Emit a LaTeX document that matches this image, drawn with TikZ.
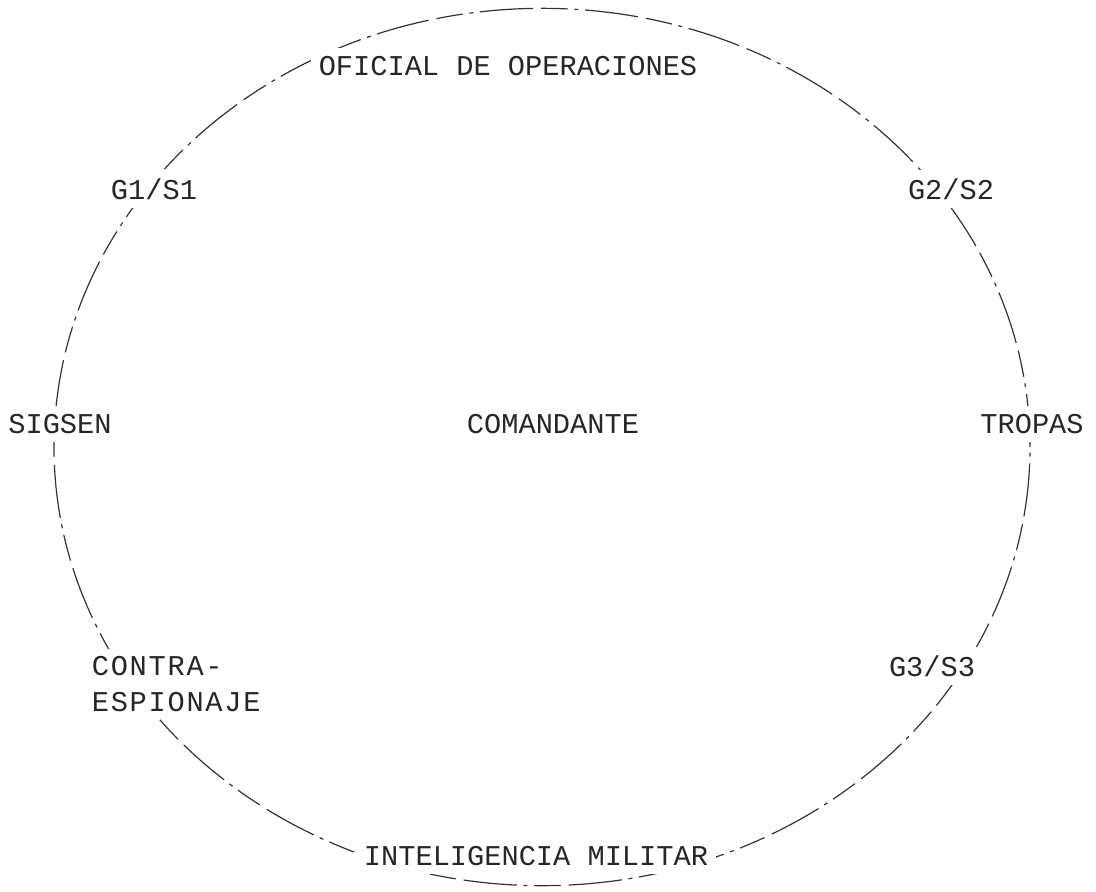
\documentclass[tikz,border=0pt]{standalone}
\usepackage{fontspec}
\setmonofont{Liberation Mono}
\begin{document}
\begin{tikzpicture}[x=0.75pt,y=-0.75pt,
  lbl/.style={font=\ttfamily\fontsize{21.5}{27}\selectfont, fill=white, inner sep=6pt, text=black!85},
  ring/.style={draw=black!80, line width=0.9pt, dash pattern=on 40pt off 5pt on 3pt off 5pt on 20pt off 6pt}]
\useasboundingbox (0,0) rectangle (1096,892);
\draw[ring] (542,447) ellipse [x radius=366pt, y radius=329pt];
\node[lbl] (ofi) at (508,66) {OFICIAL DE OPERACIONES};
\node[lbl] (g1) at (154,189) {G1/S1};
\node[lbl] (g2) at (951,189) {G2/S2};
\node[lbl] (sig) at (60,424) {SIGSEN};
\node[lbl] (com) at (553,424) {COMANDANTE};
\node[lbl] (tro) at (1032,424) {TROPAS};
\node[lbl, align=left, anchor=north west, inner sep=5pt, font=\ttfamily\fontsize{21.5}{27}\selectfont\addfontfeatures{LetterSpace=6}] (con) at (85,649) {CONTRA-\\ESPIONAJE};
\node[lbl] (g3) at (932,666) {G3/S3};
\node[lbl] (int) at (536,856) {INTELIGENCIA MILITAR};
\end{tikzpicture}
\end{document}
